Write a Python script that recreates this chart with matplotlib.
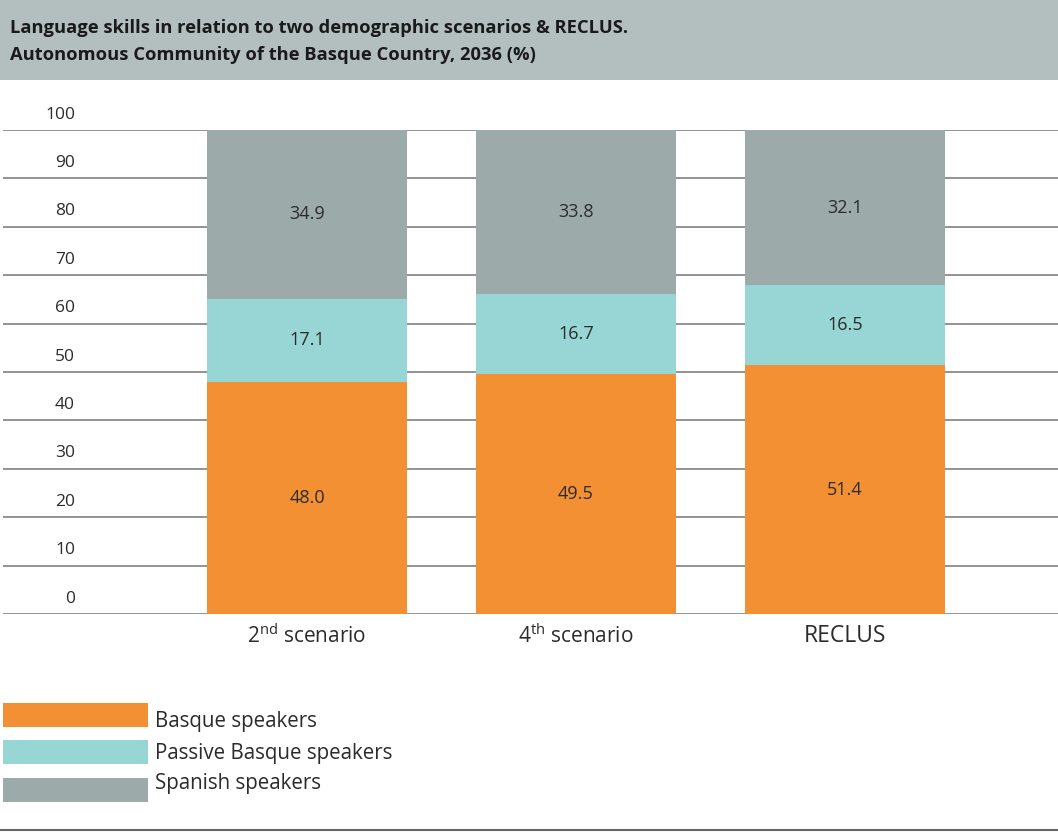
import numpy as np
import matplotlib.pyplot as plt
from matplotlib.patches import Rectangle
from matplotlib.transforms import blended_transform_factory

plt.rcParams['font.family'] = ['Open Sans', 'DejaVu Sans']

# data
scenarios = ['2$^{\\mathregular{nd}}$ scenario', '4$^{\\mathregular{th}}$ scenario', 'RECLUS']
series = ['Basque speakers', 'Passive Basque speakers', 'Spanish speakers']
basque = [48.0, 49.5, 51.4]
passive = [17.1, 16.7, 16.5]
spanish = [34.9, 33.8, 32.1]
yticks = [0, 10, 20, 30, 40, 50, 60, 70, 80, 90, 100]

colors = ['#F39033', '#98D5D5', '#9DAAAA']
text_col = '#2b2b2b'

fig = plt.figure(figsize=(10.58, 8.32), dpi=100)

# title band
fig.patches.append(Rectangle((0, 1 - 80 / 832), 1, 80 / 832, transform=fig.transFigure,
                             facecolor='#B3BFBF', edgecolor='none', zorder=0))
fig.text(10 / 1058, 1 - 28 / 832,
         'Language skills in relation to two demographic scenarios & RECLUS.',
         fontsize=13.2, fontweight='bold', color='#1a1a1a', va='center')
fig.text(10 / 1058, 1 - 55 / 832,
         'Autonomous Community of the Basque Country, 2036 (%)',
         fontsize=13.2, fontweight='bold', color='#1a1a1a', va='center')

ax = fig.add_axes([3 / 1058, 1 - 614 / 832, 1055 / 1058, 484 / 832])
x = np.arange(len(scenarios))
w = 0.743
stack = [basque, passive, spanish]
bottom = np.zeros(len(x))
for vals, c in zip(stack, colors):
    vals = np.array(vals)
    ax.bar(x, vals, w, bottom=bottom, color=c, zorder=2)
    for xi, b, v in zip(x, bottom, vals):
        ax.text(xi, b + v / 2, f'{v:.1f}', ha='center', va='center',
                fontsize=13, color=text_col, zorder=3)
    bottom += vals

ax.set_xlim((3 - 307) / 269, (1058 - 307) / 269)
ax.set_ylim(0, 100)
for t in yticks:
    ax.axhline(t, color='#8a8a8a', lw=1.3, zorder=1)

tr = blended_transform_factory(ax.transAxes, ax.transData)
for t in yticks:
    ax.text(72 / 1055, t + 3.2, str(t), transform=tr, ha='right', va='center',
            fontsize=12.5, color=text_col)

for xi, lab in zip(x, scenarios):
    fs = 16.5 if lab == 'RECLUS' else 15
    ax.text(xi, -4.5, lab, ha='center', va='center', fontsize=fs,
            color=text_col, clip_on=False)

ax.set_axis_off()

# legend
ys = [703, 740, 778]
ty = [722, 753, 784]
for c, name, y0, y1 in zip(colors, series, ys, ty):
    fig.patches.append(Rectangle((3 / 1058, 1 - (y0 + 24) / 832), 145 / 1058, 24 / 832,
                                 transform=fig.transFigure, facecolor=c, edgecolor='none'))
    fig.text(155 / 1058, 1 - y1 / 832, name, fontsize=14.8, color=text_col, va='center')

fig.add_artist(plt.Line2D([0, 1], [1 - 830 / 832] * 2, transform=fig.transFigure,
                          color='#666666', lw=1.5))

fig.savefig('out.png', dpi=100)
